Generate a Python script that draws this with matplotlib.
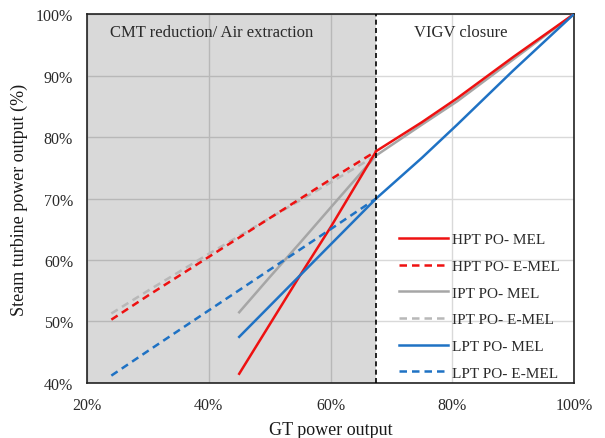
import matplotlib.pyplot as plt
from matplotlib.ticker import FuncFormatter

plt.rcParams['font.family'] = ['Liberation Serif', 'DejaVu Serif']

# GT load (%) and steam turbine power output (%)
x_mel = [45, 50, 55, 60, 67.5, 75, 80.8, 90, 100]
hpt_mel = [41.5, 49.5, 57.5, 65.3, 77.7, 82.4, 86.3, 93.0, 100]
ipt_mel = [51.5, 57.2, 62.8, 68.5, 77.0, 82.0, 85.8, 92.6, 100]
lpt_mel = [47.5, 52.5, 57.5, 62.5, 70.0, 76.6, 82.0, 90.8, 100]

x_emel = [24, 30, 40, 50, 60, 67.5]
hpt_emel = [50.3, 54.2, 60.5, 66.8, 73.1, 77.7]
ipt_emel = [51.3, 55.0, 61.0, 66.8, 72.6, 77.0]
lpt_emel = [41.2, 45.2, 51.8, 58.4, 65.0, 70.0]

x_split = 67.5
red = '#ee1111'
grey = '#a6a6a6'
grey_d = '#b8b8b8'
blue = '#1f72c4'

fig = plt.figure(figsize=(6.05, 4.39), dpi=100)
ax = fig.add_axes([0.1438, 0.1253, 0.805, 0.8405])

ax.set_xlim(20, 100)
ax.set_ylim(40, 100)
ax.set_xticks([20, 40, 60, 80, 100])
ax.set_yticks([40, 50, 60, 70, 80, 90, 100])
pct = FuncFormatter(lambda v, p: f'{v:.0f}%')
ax.xaxis.set_major_formatter(pct)
ax.yaxis.set_major_formatter(pct)
ax.grid(True, color='#d9d9d9', lw=1, zorder=0)
ax.set_axisbelow(True)

# shaded region drawn over the grid so grid lines darken inside it
ax.axvspan(20, x_split, color='black', alpha=0.15, lw=0, zorder=1)
ax.axvline(x_split, color='black', ls='--', lw=1.2, dashes=(3, 2), zorder=5)

ax.plot(x_mel, hpt_mel, color=red, lw=1.8, label='HPT PO- MEL', zorder=4)
ax.plot(x_emel, hpt_emel, color=red, lw=1.8, ls='--', dashes=(3, 2), label='HPT PO- E-MEL', zorder=4)
ax.plot(x_mel, ipt_mel, color=grey, lw=1.8, label='IPT PO- MEL', zorder=3)
ax.plot(x_emel, ipt_emel, color=grey_d, lw=1.8, ls='--', dashes=(3, 2), label='IPT PO- E-MEL', zorder=3)
ax.plot(x_mel, lpt_mel, color=blue, lw=1.8, label='LPT PO- MEL', zorder=4)
ax.plot(x_emel, lpt_emel, color=blue, lw=1.8, ls='--', dashes=(3, 2), label='LPT PO- E-MEL', zorder=4)

ax.text(40.4, 97, 'CMT reduction/ Air extraction', ha='center', va='center',
        fontsize=12, color='#2a2a2a')
ax.text(81.4, 97, 'VIGV closure', ha='center', va='center',
        fontsize=12, color='#2a2a2a')

for s in ax.spines.values():
    s.set_color('#222222')
    s.set_linewidth(1.2)
ax.tick_params(labelsize=11.5, colors='#2a2a2a', length=0, pad=10)

ax.set_xlabel('GT power output', fontsize=13, color='#1a1a1a', labelpad=6)
ax.set_ylabel('Steam turbine power output (%)', fontsize=13, color='#1a1a1a', labelpad=6)

ax.legend(loc='upper left', bbox_to_anchor=(0.612, 0.445), frameon=False,
          fontsize=11, handlelength=3.2, labelspacing=0.85, handletextpad=0.3,
          labelcolor='#2a2a2a')

fig.savefig('out.png', dpi=100)
